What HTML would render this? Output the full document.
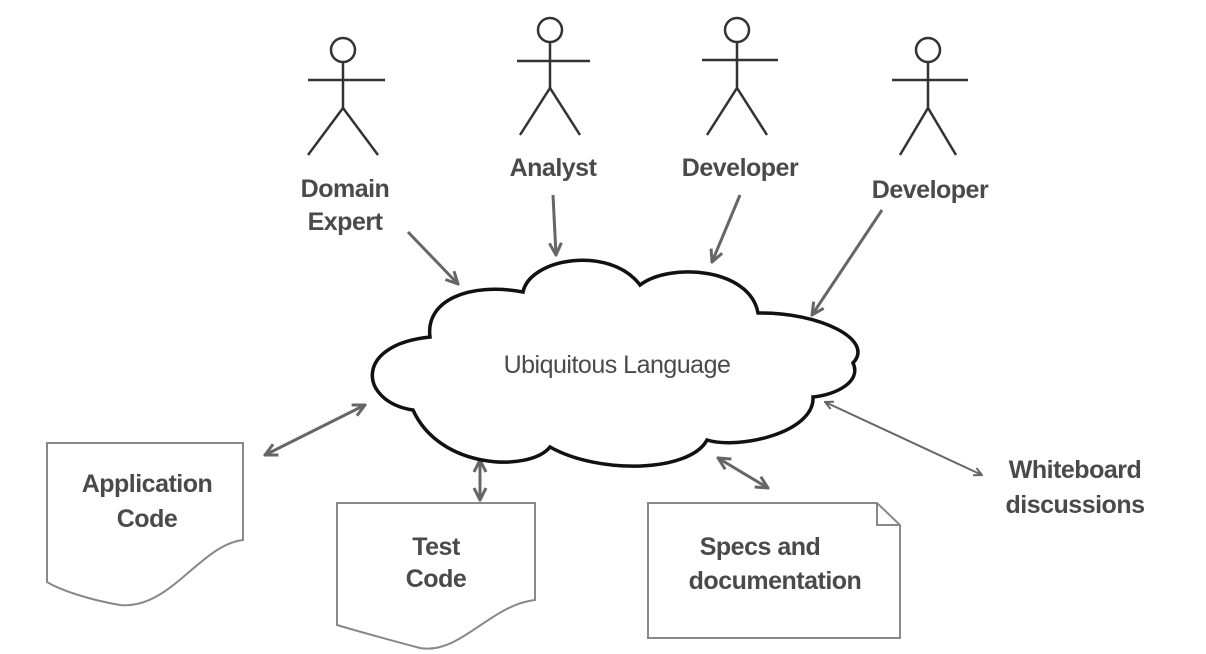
<!DOCTYPE html>
<html><head><meta charset="utf-8"><style>
html,body{margin:0;padding:0;background:#fff;}
svg{display:block}
text{font-family:"Liberation Sans",sans-serif;fill:#4a4a4a;font-size:25px;font-weight:bold;text-anchor:middle;letter-spacing:-0.5px}
</style></head><body>
<svg width="1206" height="654" viewBox="0 0 1206 654">
<defs>
<marker id="a" viewBox="0 0 10 10" refX="9" refY="5" markerWidth="5" markerHeight="5" orient="auto-start-reverse"><path d="M1,1 L9,5 L1,9" fill="none" stroke="#666" stroke-width="2"/></marker>
</defs>
<g stroke="#333" stroke-width="2.5" fill="none">
<circle cx="343" cy="50" r="12"/><line x1="308" y1="80" x2="385" y2="80"/><line x1="343" y1="62" x2="343" y2="108"/><path d="M308,155 L343,108 L378,155"/>
<circle cx="550" cy="30" r="12"/><line x1="517" y1="61" x2="590" y2="61"/><line x1="550" y1="42" x2="550" y2="88"/><path d="M520,135 L550,88 L580,135"/>
<circle cx="737" cy="30" r="12"/><line x1="702" y1="60" x2="778" y2="60"/><line x1="737" y1="42" x2="737" y2="88"/><path d="M707,135 L737,88 L767,135"/>
<circle cx="928" cy="50" r="12"/><line x1="892" y1="80" x2="968" y2="80"/><line x1="928" y1="62" x2="928" y2="108"/><path d="M900,155 L928,108 L956,155"/>
</g>
<text x="345" y="197">Domain</text><text x="345" y="230">Expert</text>
<text x="553" y="176">Analyst</text>
<text x="740" y="176">Developer</text>
<text x="930" y="198">Developer</text>
<g stroke="#666" stroke-width="3" fill="none">
<line x1="408" y1="232" x2="458" y2="284" marker-end="url(#a)"/>
<line x1="553" y1="195" x2="556" y2="255" marker-end="url(#a)"/>
<line x1="740" y1="195" x2="712" y2="262" marker-end="url(#a)"/>
<line x1="882" y1="210" x2="812" y2="315" marker-end="url(#a)"/>
<line x1="265" y1="455" x2="365" y2="405" marker-start="url(#a)" marker-end="url(#a)"/>
<line x1="480" y1="460" x2="480" y2="500" marker-start="url(#a)" marker-end="url(#a)"/>
<line x1="718" y1="458" x2="768" y2="488" marker-start="url(#a)" marker-end="url(#a)"/>
<line x1="825" y1="402" x2="982" y2="475" stroke-width="2" marker-start="url(#a)" marker-end="url(#a)"/>
</g>
<path d="M430,337 C425,300 470,282 523,292 C530,258 610,245 640,285 C670,262 750,268 758,313 C820,312 875,340 853,363 C862,382 835,395 813,397 C815,432 740,450 707,440 C690,472 600,475 550,447 C530,472 440,470 413,410 C360,402 352,345 430,337 Z" fill="#fff" stroke="#111" stroke-width="3.5"/>
<text x="617" y="373" style="font-weight:normal">Ubiquitous Language</text>
<g fill="#fff" stroke="#888" stroke-width="2">
<path d="M47,443 L243,443 L243,540 C200,545 170,610 120,605 C90,600 60,590 47,582 Z"/>
<path d="M337,503 L535,503 L535,600 C490,605 460,655 420,648 C390,640 360,632 337,625 Z"/>
<path d="M648,503 L877,503 L900,525 L900,638 L648,638 Z"/>
<path d="M877,503 L877,525 L900,525" fill="none"/>
</g>
<text x="147" y="492">Application</text><text x="147" y="527">Code</text>
<text x="436" y="555">Test</text><text x="436" y="587">Code</text>
<text x="760" y="555">Specs and</text><text x="775" y="589">documentation</text>
<text x="1075" y="478">Whiteboard</text><text x="1075" y="513">discussions</text>
</svg>
</body></html>
